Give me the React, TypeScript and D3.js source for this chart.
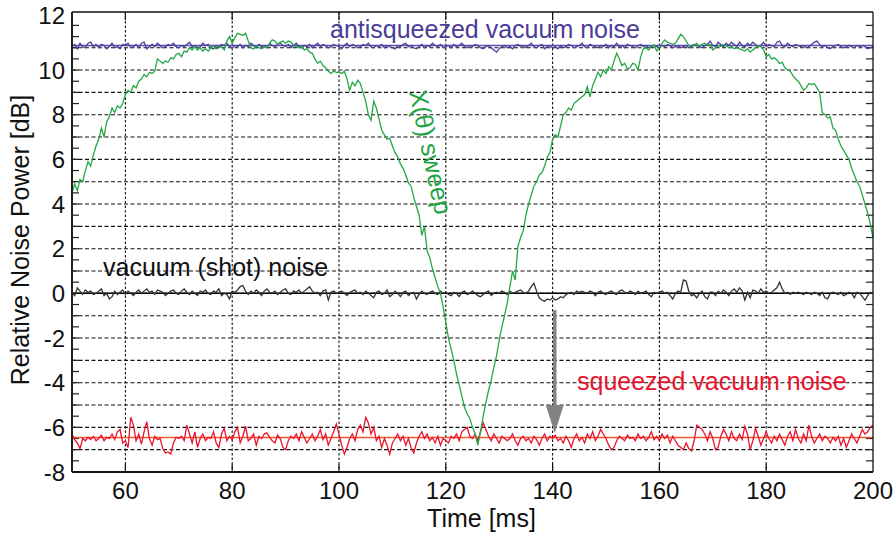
import React from 'react';
import * as d3 from 'd3';

// ---- data (time axis in ms, values in dB) ----
const T_START = 50;
const T_END = 200;
const T_STEP = 0.5;
const X_TICKS = [60, 80, 100, 120, 140, 160, 180, 200];
const Y_TICKS = [-8, -6, -4, -2, 0, 2, 4, 6, 8, 10, 12];
const Y_GRID = [-7, -6, -5, -4, -3, -2, -1, 0, 1, 2, 3, 4, 5, 6, 7, 8, 9, 10, 11];
const Y_MINOR = [-7.5, -7, -6.5, -6, -5.5, -5, -4.5, -4, -3.5, -3, -2.5, -2, -1.5, -1, -0.5, 0, 0.5, 1, 1.5, 2, 2.5, 3, 3.5, 4, 4.5, 5, 5.5, 6, 6.5, 7, 7.5, 8, 8.5, 9, 9.5, 10, 10.5, 11, 11.5, 12];

const ANTI_LEVEL = 11.1;
const SHOT_LEVEL = 0;
const SQZ_LEVEL = -6.45;

const ARROW_T = 140.4;
const ARROW_FROM = -0.75;
const ARROW_TO = -6.25;

const antisqueezed = [
  11.05, 11.15, 10.95, 11.2, 11.05, 11.0, 11.2, 11.25, 11.05, 11.15,
  11.0, 11.15, 11.1, 10.95, 11.05, 11.2, 11.0, 11.05, 10.95, 11.15,
  11.1, 11.2, 11.0, 11.05, 11.15, 11.0, 11.2, 11.25, 10.95, 11.05,
  11.15, 11.05, 11.2, 11.1, 11.0, 11.05, 11.15, 11.1, 11.2, 11.05,
  11.0, 11.1, 11.05, 11.15, 11.25, 11.05, 11.1, 11.0, 11.05, 11.2,
  11.1, 11.15, 11.0, 10.95, 11.1, 11.05, 11.15, 11.1, 11.2, 11.05,
  11.0, 11.1, 11.05, 11.15, 11.0, 11.1, 11.05, 11.2, 11.1, 11.0,
  11.15, 11.05, 11.1, 11.0, 11.2, 11.1, 11.05, 11.15, 11.2, 11.1,
  11.05, 11.15, 11.0, 11.1, 11.2, 11.05, 11.0, 11.1, 11.05, 11.15,
  11.0, 11.1, 11.2, 11.05, 11.15, 11.1, 11.0, 11.05, 11.15, 11.1,
  11.05, 10.95, 11.1, 11.2, 11.05, 11.15, 11.1, 11.0, 11.05, 11.15,
  11.1, 11.2, 11.05, 11.0, 11.1, 11.05, 11.15, 11.0, 11.1, 11.05,
  11.0, 10.95, 11.1, 11.05, 11.15, 11.2, 11.05, 11.1, 11.0, 10.95,
  11.05, 11.15, 11.0, 11.1, 11.05, 11.2, 11.1, 11.05, 11.15, 11.0,
  11.05, 11.1, 11.0, 11.15, 11.05, 11.1, 11.2, 11.05, 11.0, 11.1,
  11.05, 11.15, 11.1, 11.0, 10.95, 11.05, 11.1, 11.0, 10.9, 10.8,
  10.95, 11.05, 11.1, 11.0, 11.05, 10.95, 11.1, 11.15, 11.05, 11.1,
  11.0, 11.1, 11.2, 11.05, 11.0, 11.1, 11.15, 10.95, 11.05, 11.1,
  11.0, 11.05, 10.95, 11.1, 11.0, 11.05, 11.15, 11.1, 11.0, 11.05,
  11.1, 11.2, 11.05, 11.0, 11.15, 11.1, 11.05, 11.0, 11.1, 11.05,
  11.15, 11.0, 11.1, 11.05, 11.2, 11.05, 11.1, 11.0, 11.15, 11.1,
  11.05, 11.0, 11.1, 11.15, 11.05, 11.1, 11.0, 11.05, 11.1, 11.05,
  11.0, 11.1, 11.05, 11.15, 11.1, 11.0, 11.05, 11.1, 11.0, 11.05,
  11.1, 11.0, 11.05, 11.15, 11.1, 11.05, 11.0, 11.1, 11.15, 11.3,
  11.1, 11.05, 11.25, 11.15, 11.05, 11.2, 11.1, 11.25, 11.15, 11.05,
  11.25, 11.1, 11.05, 11.2, 11.1, 11.25, 11.15, 11.05, 11.1, 11.25,
  11.05, 11.15, 11.1, 11.05, 11.25, 11.3, 11.1, 11.05, 11.2, 11.1,
  11.05, 11.15, 11.1, 11.05, 11.1, 11.0, 11.05, 11.15, 11.25, 11.3,
  11.15, 11.05, 11.1, 11.0, 10.95, 11.05, 11.1, 11.15, 11.05, 11.0,
  11.05, 11.1, 11.05, 11.0, 11.1, 11.05, 11.1, 11.05, 10.95, 11.0,
  11.05,
];

const shotNoise = [
  0.05, -0.1, 0.25, 0.1, -0.05, 0.15, 0.05, 0.1, -0.05, 0.0,
  0.1, 0.2, -0.1, 0.0, -0.25, -0.15, 0.1, -0.05, 0.05, 0.15,
  -0.05, 0.1, 0.0, -0.1, 0.05, 0.15, 0.0, 0.1, 0.2, 0.05,
  0.1, -0.05, 0.15, 0.1, 0.05, -0.1, 0.0, 0.1, 0.15, 0.0,
  -0.05, 0.1, 0.2, 0.05, -0.05, 0.1, 0.0, -0.1, 0.1, 0.05,
  0.15, 0.0, -0.05, 0.1, 0.05, 0.2, -0.1, 0.0, -0.05, -0.25,
  0.1, 0.05, 0.15, 0.3, 0.35, 0.1, -0.05, 0.1, 0.0, 0.15,
  0.05, -0.1, 0.1, 0.2, 0.05, 0.0, 0.1, -0.05, 0.05, 0.15,
  0.2, 0.0, -0.05, 0.1, 0.05, 0.15, 0.0, 0.1, 0.2, 0.3,
  0.1, 0.0, 0.05, -0.1, 0.1, 0.15, -0.3, 0.05, 0.1, 0.0,
  0.05, 0.1, 0.0, -0.1, 0.05, 0.1, 0.15, 0.0, 0.05, -0.05,
  0.1, 0.0, -0.1, -0.2, 0.05, 0.1, -0.05, 0.0, 0.15, -0.15,
  -0.05, 0.1, 0.0, -0.15, 0.05, 0.1, -0.1, 0.0, 0.05, -0.25,
  -0.05, 0.1, 0.0, -0.05, 0.05, 0.1, 0.0, -0.05, 0.1, 0.0,
  0.05, -0.05, -0.1, 0.05, 0.0, -0.15, 0.05, 0.1, -0.05, 0.0,
  0.1, 0.0, -0.1, -0.15, -0.05, 0.05, 0.1, -0.1, 0.0, 0.05,
  0.0, 0.1, 0.05, -0.05, 0.1, 0.0, 0.05, 0.1, 0.15, 0.05,
  0.0, 0.1, 0.3, 0.45, 0.1, -0.2, -0.3, -0.35, -0.25, -0.3,
  -0.2, -0.3, -0.25, -0.15, -0.2, -0.05, 0.0, 0.05, -0.05, 0.1,
  0.05, 0.1, 0.05, 0.0, 0.1, 0.05, -0.1, 0.05, 0.1, 0.0,
  -0.05, 0.05, 0.1, 0.0, -0.05, 0.1, 0.15, 0.05, 0.0, 0.1,
  0.05, -0.05, 0.1, 0.0, 0.05, 0.1, -0.05, -0.15, 0.05, 0.0,
  0.05, 0.1, 0.0, 0.05, -0.1, -0.25, 0.0, 0.1, 0.05, 0.6,
  0.55, 0.1, -0.1, -0.05, -0.2, 0.0, 0.1, -0.15, -0.25, 0.05,
  0.05, -0.1, 0.1, 0.0, 0.15, 0.05, -0.1, 0.1, 0.2, 0.05,
  0.25, 0.1, -0.3, 0.05, -0.2, 0.15, 0.1, 0.0, 0.2, 0.05,
  0.1, 0.0, 0.05, 0.15, 0.25, 0.5, 0.2, 0.0, 0.05, -0.05,
  0.05, 0.0, 0.05, 0.0, -0.05, 0.05, 0.0, -0.05, 0.05, 0.0,
  -0.1, 0.05, -0.2, -0.25, 0.0, 0.05, 0.0, -0.05, 0.05, -0.1,
  -0.05, 0.05, 0.0, -0.2, 0.05, 0.0, -0.15, -0.3, -0.1, 0.05,
  0.0,
];

const squeezed = [
  -6.3, -6.55, -6.7, -6.95, -6.5, -6.6, -6.45, -6.55, -6.4, -6.6,
  -6.5, -6.35, -6.6, -6.45, -6.5, -6.3, -6.55, -6.2, -6.1, -6.7,
  -6.6, -6.9, -5.55, -5.9, -6.6, -6.3, -6.75, -6.2, -5.75, -6.5,
  -6.8, -6.4, -6.55, -6.5, -6.95, -7.15, -7.1, -7.2, -6.7, -6.45,
  -6.5, -6.4, -6.6, -5.9, -6.3, -6.7, -6.2, -6.9, -6.5, -6.3,
  -6.6, -6.45, -6.5, -6.2, -6.7, -6.9, -6.3, -6.05, -6.6, -6.4,
  -6.55, -6.2, -6.0, -6.7, -6.4, -5.95, -6.6, -6.5, -6.3, -6.8,
  -6.4, -6.5, -6.3, -6.25, -6.45, -6.6, -6.7, -6.35, -6.5, -6.9,
  -7.0, -6.6, -6.4, -6.5, -6.3, -6.6, -6.2, -6.45, -6.7, -6.5,
  -6.3, -6.6, -6.4, -6.1, -6.55, -6.3, -6.8, -6.5, -6.2, -5.85,
  -6.3, -6.8, -7.2, -6.9, -6.5, -6.3, -6.6, -6.1, -5.9, -6.2,
  -5.55, -5.8, -6.3, -6.0, -6.6, -6.4, -6.9, -6.5, -6.8, -7.2,
  -6.7, -6.5, -6.3, -6.6, -6.4, -6.8, -6.5, -6.9, -7.15, -6.7,
  -6.4, -6.2, -6.5, -6.3, -6.6, -6.45, -6.7, -6.4, -6.8, -6.5,
  -6.6, -6.7, -6.4, -6.5, -6.3, -6.6, -6.2, -6.1, -6.0, -6.4,
  -6.5, -6.3, -6.6, -6.2, -5.8, -6.1, -6.4, -6.6, -6.3, -6.5,
  -6.7, -6.4, -6.5, -6.6, -6.5, -6.3, -6.6, -6.8, -6.5, -6.4,
  -6.6, -6.5, -6.7, -6.4, -6.55, -6.8, -6.5, -6.3, -6.6, -6.4,
  -6.5, -6.35, -6.6, -6.5, -6.7, -6.4, -6.6, -6.9, -6.5, -6.3,
  -6.6, -6.45, -6.7, -6.3, -6.5, -6.2, -6.6, -6.4, -6.1, -6.3,
  -6.5, -6.8, -7.0, -6.9, -6.6, -6.4, -6.5, -6.6, -6.35, -6.5,
  -6.45, -6.6, -6.3, -6.5, -6.4, -6.6, -6.45, -6.2, -6.55, -6.4,
  -6.6, -6.3, -6.5, -6.35, -6.7, -6.4, -6.6, -6.8, -6.9, -7.0,
  -6.7, -6.95, -7.05, -6.6, -5.9, -6.0, -6.1, -6.3, -6.6, -6.2,
  -6.5, -7.0, -6.9, -6.4, -6.1, -6.3, -6.6, -6.2, -6.5, -6.6,
  -6.3, -6.55, -5.95, -6.3, -7.0, -6.6, -6.05, -6.4, -6.8, -6.5,
  -6.2, -6.5, -6.7, -6.4, -6.6, -6.3, -6.55, -6.8, -6.4, -6.2,
  -6.6, -6.1, -6.5, -6.7, -6.3, -6.6, -5.9, -6.4, -6.7, -6.5,
  -6.3, -6.6, -6.4, -6.5, -6.7, -6.45, -6.6, -6.4, -6.8, -6.5,
  -6.9, -6.6, -6.3, -6.5, -6.7, -6.4, -6.1, -6.3, -6.2, -6.0,
  -5.9,
];

const sweep = [
  4.5, 4.9, 4.6, 5.1, 5.0, 5.5, 5.9, 5.7, 6.2, 6.6,
  6.9, 7.4, 7.0, 7.7, 7.9, 8.3, 8.1, 8.4, 8.3, 8.5,
  8.9, 9.1, 9.0, 9.3, 9.2, 9.5, 9.6, 9.8, 9.7, 9.9,
  9.85, 9.95, 10.5, 10.4, 10.3, 10.4, 10.35, 10.55, 10.5, 10.7,
  10.75, 10.6, 10.85, 10.8, 11.0, 10.9, 11.05, 10.9, 11.0, 10.85,
  10.95, 10.85, 11.0, 11.1, 10.95, 11.0, 11.05, 10.9, 11.3, 11.5,
  11.2, 11.45, 11.65, 11.6, 11.55, 11.65, 11.3, 11.0, 10.95, 11.1,
  11.0, 10.95, 11.05, 11.0, 11.2, 11.35, 11.3, 11.15, 11.25, 11.3,
  11.2, 11.3, 11.25, 11.1, 11.05, 11.0, 11.05, 10.9, 10.95, 10.8,
  10.75, 10.5, 10.3, 10.4, 10.2, 10.1, 9.95, 9.85, 9.95, 9.9,
  9.9, 9.85, 9.95, 9.6, 9.1, 9.45, 9.3, 9.55, 9.4, 9.0,
  8.6, 8.0, 7.75, 8.6, 8.3, 7.8, 7.3, 7.1, 6.9, 6.95,
  6.6, 6.3, 6.1, 5.8, 5.6, 5.3, 4.95, 4.8, 4.3, 3.9,
  3.5, 2.6, 3.0, 1.9, 1.6, 1.1, 0.7, 0.3, 0.0, -0.6,
  -1.3, -2.0, -2.5, -3.0, -3.6, -4.1, -4.6, -5.1, -5.4, -5.6,
  -6.0, -6.3, -6.8, -6.2, -5.5, -4.9, -4.35, -3.9, -3.3, -2.8,
  -2.1, -1.5, -1.0, -0.45, 0.3, 1.0, 0.6, 2.1, 2.5, 2.8,
  3.5, 4.0, 4.4, 4.8, 5.0, 5.3, 5.4, 5.7, 6.1, 6.3,
  6.9, 7.1, 7.0, 7.5, 8.0, 8.1, 8.3, 8.2, 8.5, 8.6,
  8.7, 8.8, 8.9, 9.25, 8.8, 9.3, 9.6, 9.9, 9.7, 10.0,
  9.85, 10.15, 10.0, 10.4, 10.75, 10.5, 10.2, 10.3, 10.05, 10.1,
  10.3, 10.25, 10.0, 10.6, 10.95, 11.0, 10.9, 11.1, 11.12, 10.85,
  11.0, 11.2, 11.35, 11.25, 11.2, 11.15, 11.2, 11.4, 11.6, 11.5,
  11.3, 11.1, 11.05, 11.1, 11.2, 11.05, 11.15, 11.2, 11.1, 11.15,
  10.9, 11.0, 11.1, 11.05, 11.15, 11.1, 11.0, 11.05, 10.95, 11.0,
  10.95, 10.9, 10.85, 10.95, 10.8, 10.9, 11.0, 11.1, 11.05, 10.9,
  10.6, 10.7, 10.5, 10.55, 10.45, 10.3, 10.35, 10.1, 10.0, 9.95,
  9.75, 9.6, 9.5, 9.3, 9.1, 9.2, 9.4, 9.35, 9.4, 9.2,
  9.0, 8.1, 8.0, 7.85, 7.9, 7.4, 7.3, 6.9, 6.6, 6.4,
  6.2, 6.0, 5.6, 5.3, 5.0, 4.8, 4.4, 4.0, 3.6, 3.1,
  2.5,
];

const FONT = '"Liberation Sans", Arial, Helvetica, sans-serif';

export default function App() {
  const W = 895;
  const H = 533;
  const left = 72, right = 873, top = 12, bottom = 472;

  const x = d3.scaleLinear().domain([T_START, T_END]).range([left, right]);
  const y = d3.scaleLinear().domain([-8, 12.6]).range([bottom, top]);

  const times = d3.range(T_START, T_END + T_STEP / 2, T_STEP);
  const line = d3
    .line<number>()
    .x((_, i) => x(times[i]))
    .y((d) => y(d));

  const vGrid = X_TICKS.filter((t) => t < T_END);

  return (
    <svg
      width={W}
      height={H}
      style={{ position: 'absolute', left: 0, top: 0, background: '#fff' }}
      fontFamily={FONT}
    >
      <rect x={0} y={0} width={W} height={H} fill="#fff" />
      {/* horizontal grid */}
      {Y_GRID.map((v) => (
        <line
          key={'hg' + v}
          x1={left}
          x2={right}
          y1={y(v)}
          y2={y(v)}
          stroke="#111"
          strokeWidth={1.1}
          strokeDasharray="4,2.5"
        />
      ))}
      {/* vertical grid */}
      {vGrid.map((t) => (
        <line
          key={'vg' + t}
          x1={x(t)}
          x2={x(t)}
          y1={top}
          y2={bottom}
          stroke="#111"
          strokeWidth={1.1}
          strokeDasharray="2.5,2"
        />
      ))}
      {/* major x ticks at top and bottom */}
      {vGrid.map((t) => (
        <g key={'xt' + t}>
          <line x1={x(t)} x2={x(t)} y1={top} y2={top + 8} stroke="#111" strokeWidth={1.2} />
          <line x1={x(t)} x2={x(t)} y1={bottom} y2={bottom - 8} stroke="#111" strokeWidth={1.2} />
        </g>
      ))}
      {/* minor y ticks left and right */}
      {Y_MINOR.map((v) => (
        <g key={'ym' + v}>
          <line x1={left} x2={left + 7} y1={y(v)} y2={y(v)} stroke="#222" strokeWidth={1.2} />
          <line x1={right} x2={right - 7} y1={y(v)} y2={y(v)} stroke="#222" strokeWidth={1.2} />
        </g>
      ))}

      {/* reference levels */}
      <line x1={left} x2={right} y1={y(ANTI_LEVEL)} y2={y(ANTI_LEVEL)} stroke="#5a50b4" strokeWidth={1.5} />
      <line x1={left} x2={right} y1={y(SHOT_LEVEL)} y2={y(SHOT_LEVEL)} stroke="#000" strokeWidth={1.5} />
      <line x1={left} x2={right} y1={y(SQZ_LEVEL)} y2={y(SQZ_LEVEL)} stroke="#f25a2c" strokeWidth={1.5} />

      {/* traces */}
      <path d={line(squeezed) || ''} fill="none" stroke="#e8142e" strokeWidth={1.3} />
      <path d={line(shotNoise) || ''} fill="none" stroke="#333" strokeWidth={1.3} />
      <path d={line(antisqueezed) || ''} fill="none" stroke="#4c409c" strokeWidth={1.3} />
      <path d={line(sweep) || ''} fill="none" stroke="#22a845" strokeWidth={1.3} />

      {/* arrow */}
      <line
        x1={x(ARROW_T)}
        x2={x(ARROW_T)}
        y1={y(ARROW_FROM)}
        y2={y(ARROW_TO) - 24}
        stroke="#858282"
        strokeWidth={3.5}
      />
      <path
        d={`M${x(ARROW_T) - 9},${y(ARROW_TO) - 28} L${x(ARROW_T) + 9},${y(ARROW_TO) - 28} L${x(ARROW_T)},${y(ARROW_TO)} Z`}
        fill="#858282"
      />

      {/* axes box */}
      <line x1={left} x2={right} y1={top} y2={top} stroke="#111" strokeWidth={1.3} />
      <line x1={right} x2={right} y1={top} y2={bottom} stroke="#111" strokeWidth={1.3} />
      <line x1={left} x2={left} y1={top} y2={bottom} stroke="#222" strokeWidth={2} />
      <line x1={left} x2={right} y1={bottom} y2={bottom} stroke="#111" strokeWidth={2} />

      {/* tick labels */}
      {X_TICKS.map((t) => (
        <text key={'xl' + t} x={x(t)} y={499} fontSize={24} textAnchor="middle" fill="#111">
          {t}
        </text>
      ))}
      {Y_TICKS.map((v) => (
        <text
          key={'yl' + v}
          x={65}
          y={y(v) + (v === 12 ? -10 : 0)}
          fontSize={24}
          textAnchor="end"
          dominantBaseline="central"
          fill="#111"
        >
          {v}
        </text>
      ))}

      {/* axis labels */}
      <text x={(left + right) / 2 + 9} y={527} fontSize={25} textAnchor="middle" fill="#111">
        Time [ms]
      </text>
      <text
        transform={`translate(29, ${240}) rotate(-90)`}
        fontSize={25}
        textAnchor="middle"
        fill="#111"
      >
        Relative Noise Power [dB]
      </text>

      {/* annotations */}
      <text x={330} y={38} fontSize={25} fill="#4a3c98">
        antisqueezed vacuum noise
      </text>
      <text x={103} y={276} fontSize={25} fill="#111">
        vacuum (shot) noise
      </text>
      <text x={577} y={390} fontSize={25} fill="#e8142e">
        squeezed vacuum noise
      </text>
      <text transform="translate(409, 92) rotate(78)" fontSize={25} fill="#1fa445">
        X(θ) sweep
      </text>
    </svg>
  );
}
